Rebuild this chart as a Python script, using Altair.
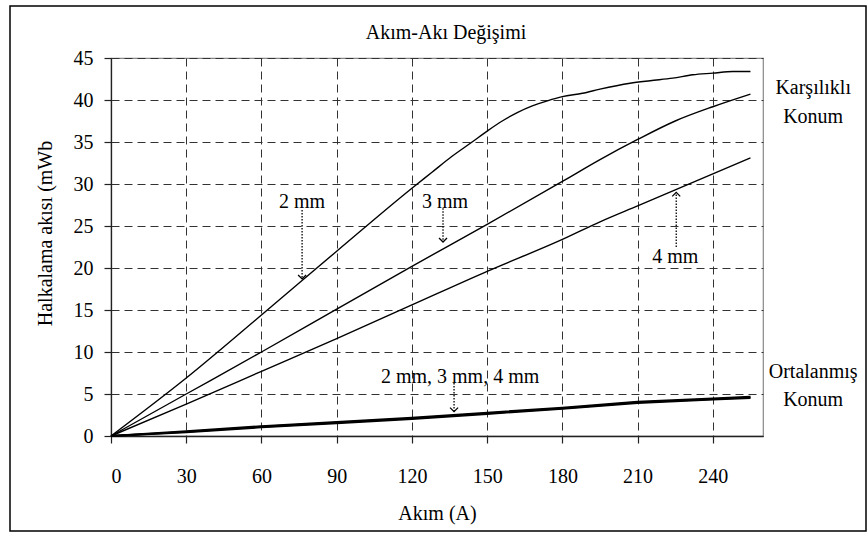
import altair as alt
import pandas as pd

# ---- data ----
x2 = [0, 30, 60, 90, 120, 128, 136, 144, 150, 156, 162, 168, 174, 180, 188, 195, 207, 215, 224, 232, 240, 248, 255]
y2 = [0, 6.9, 14.4, 22.0, 29.5, 31.4, 33.3, 35.0, 36.3, 37.5, 38.5, 39.3, 39.9, 40.4, 40.8, 41.3, 42.0, 42.3, 42.6, 43.0, 43.2, 43.4, 43.4]

x3 = [0, 30, 60, 90, 120, 150, 180, 195, 210, 225, 240, 255]
y3 = [0, 5.0, 10.0, 15.1, 20.2, 25.2, 30.3, 32.9, 35.3, 37.5, 39.2, 40.7]

x4 = [0, 30, 60, 90, 120, 150, 180, 195, 210, 225, 240, 255]
y4 = [0, 3.8, 7.7, 11.6, 15.6, 19.6, 23.4, 25.5, 27.4, 29.3, 31.2, 33.1]

xc = [0, 30, 60, 90, 120, 150, 180, 210, 240, 255]
yc2 = [0, 0.58, 1.18, 1.68, 2.18, 2.78, 3.38, 4.08, 4.48, 4.68]
yc3 = [0, 0.5, 1.1, 1.6, 2.1, 2.7, 3.3, 4.0, 4.4, 4.6]
yc4 = [0, 0.42, 1.02, 1.52, 2.02, 2.62, 3.22, 3.92, 4.32, 4.52]

ann_text = ["2 mm", "3 mm", "4 mm", "2 mm, 3 mm, 4 mm"]
ann_x = [76.2, 133.2, 225.0, 139.2]
ann_y = [27.9, 27.9, 21.3, 7.0]

arr_x = [76.2, 132.4, 225.4, 136.8]
arr_from = [26.9, 27.1, 22.5, 6.3]
arr_tip = [18.7, 23.1, 29.0, 2.9]
arr_dir = ["down", "down", "up", "down"]

side_text = ["Karşılıklı", "Konum", "Ortalanmış", "Konum"]
side_x = [280, 280, 280, 280]
side_y = [41.4, 38.0, 7.6, 4.3]

title_text = ["Akım-Akı Değişimi"]

FONT = "'Liberation Serif', 'Times New Roman', serif"
FS = 20

xs = alt.Scale(domain=[0, 260], nice=False)
ys = alt.Scale(domain=[0, 45], nice=False)

rows = []
for name, xx, yy in [("2 mm", x2, y2), ("3 mm", x3, y3), ("4 mm", x4, y4)]:
    rows += [{"s": name, "x": a, "y": b} for a, b in zip(xx, yy)]
kars = pd.DataFrame(rows)

rows = []
for name, yy in [("2 mm", yc2), ("3 mm", yc3), ("4 mm", yc4)]:
    rows += [{"s": name, "x": a, "y": b} for a, b in zip(xc, yy)]
ort = pd.DataFrame(rows)

ann = pd.DataFrame({"t": ann_text, "x": ann_x, "y": ann_y})
arr = pd.DataFrame({"x": arr_x, "y1": arr_from, "y2": arr_tip, "d": arr_dir})
side = pd.DataFrame({"t": side_text, "x": side_x, "y": side_y})
ttl = pd.DataFrame({"t": title_text})

xaxis = alt.Axis(
    values=[0, 30, 60, 90, 120, 150, 180, 210, 240],
    title="Akım (A)", titleY=77, titleBaseline="middle",
)
yaxis = alt.Axis(
    values=[0, 5, 10, 15, 20, 25, 30, 35, 40, 45],
    title="Halkalama akısı (mWb", titleX=-66, titleY=175,
    titleBaseline="middle", titleAlign="center", titleAngle=270,
)

border = alt.Chart(pd.DataFrame({"a": [0]})).mark_rect(
    fill=None, stroke="black", strokeWidth=1.5
).encode(
    x=alt.value(-101), x2=alt.value(755), y=alt.value(-52), y2=alt.value(473)
)

title_mark = alt.Chart(ttl).mark_text(
    font=FONT, fontSize=FS, color="black", baseline="middle", align="center"
).encode(x=alt.value(335), y=alt.value(-25), text="t:N")

base_k = alt.Chart(kars).mark_line(color="black", strokeWidth=1.4, interpolate="monotone").encode(
    x=alt.X("x:Q", scale=xs, axis=xaxis),
    y=alt.Y("y:Q", scale=ys, axis=yaxis),
    detail="s:N",
)

base_o = alt.Chart(ort).mark_line(color="black", strokeWidth=1.8).encode(
    x=alt.X("x:Q", scale=xs), y=alt.Y("y:Q", scale=ys), detail="s:N"
)

dotted = alt.Chart(arr).mark_rule(color="black", strokeWidth=1.3, strokeDash=[1.5, 1.5]).encode(
    x=alt.X("x:Q", scale=xs), y=alt.Y("y1:Q", scale=ys), y2="y2:Q"
)

head_down = alt.Chart(arr).transform_filter(alt.datum.d == "down").mark_point(
    shape="M -1 -1 L 0 0 L 1 -1", filled=False, color="black", strokeWidth=1.3, size=64, opacity=1
).encode(x=alt.X("x:Q", scale=xs), y=alt.Y("y2:Q", scale=ys))

head_up = alt.Chart(arr).transform_filter(alt.datum.d == "up").mark_point(
    shape="M -1 1 L 0 0 L 1 1", filled=False, color="black", strokeWidth=1.3, size=64, opacity=1
).encode(x=alt.X("x:Q", scale=xs), y=alt.Y("y2:Q", scale=ys))

labels = alt.Chart(ann).mark_text(font=FONT, fontSize=FS, color="black").encode(
    x=alt.X("x:Q", scale=xs), y=alt.Y("y:Q", scale=ys), text="t:N"
)

side_lbl = alt.Chart(side).mark_text(font=FONT, fontSize=FS, color="black", clip=False).encode(
    x=alt.X("x:Q", scale=xs), y=alt.Y("y:Q", scale=ys), text="t:N"
)

chart = alt.layer(
    border, title_mark, base_k, base_o, dotted, head_down, head_up, labels, side_lbl
).properties(
    width=652, height=378,
    autosize=alt.AutoSizeParams(type="none"),
    padding={"left": 111, "top": 58, "right": 104, "bottom": 97},
).configure(
    background="white",
).configure_view(
    stroke="#888888", strokeWidth=1.2,
).configure_axis(
    labelFont=FONT, labelFontSize=FS, labelColor="black",
    titleFont=FONT, titleFontSize=FS, titleFontWeight="normal", titleColor="black",
    domainColor="#222222", domainWidth=1.3,
    tickColor="#222222", tickSize=7, tickWidth=1.2,
    grid=True, gridColor="#333333", gridDash=[8, 5], gridWidth=1,
).configure_axisX(
    labelPadding=33, labelBaseline="middle",
).configure_axisY(
    labelPadding=11,
)

chart.save("out.html", embed_options={"renderer": "svg", "actions": False})
